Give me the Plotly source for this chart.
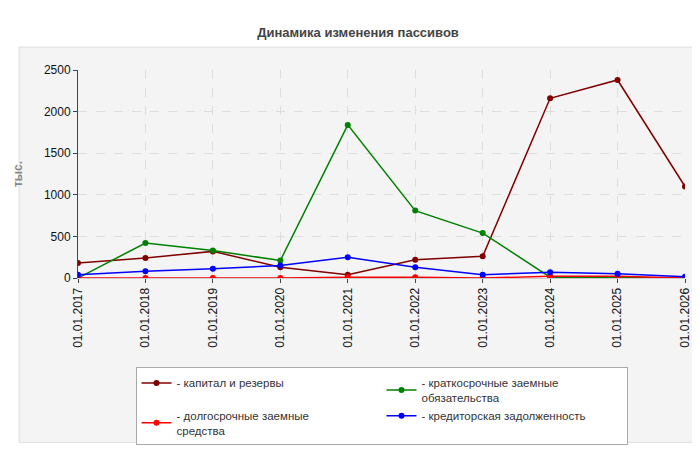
import plotly.graph_objects as go

dates = ["01.01.2017", "01.01.2018", "01.01.2019", "01.01.2020", "01.01.2021",
         "01.01.2022", "01.01.2023", "01.01.2024", "01.01.2025", "01.01.2026"]
capital = [180, 240, 320, 130, 40, 220, 260, 2160, 2380, 1100]
short_term = [0, 420, 330, 210, 1840, 810, 540, 10, 5, 0]
long_term = [0, 0, 0, 0, 10, 10, 0, 20, 20, 0]
creditors = [40, 80, 110, 150, 250, 130, 40, 70, 50, 15]

series = [
    ("- капитал и резервы", capital, "#800000"),
    ("- краткосрочные заемные<br>обязательства", short_term, "#008000"),
    ("- долгосрочные заемные<br>средства", long_term, "#ff0000"),
    ("- кредиторская задолженность", creditors, "#0000ff"),
]

fig = go.Figure()
for name, vals, color in series:
    fig.add_trace(go.Scatter(
        x=dates, y=vals, name=name, mode="lines+markers",
        line=dict(color=color, width=1.5),
        marker=dict(color=color, size=6),
    ))

fig.update_layout(
    width=700, height=450,
    margin=dict(l=70, r=23, t=62, b=175),
    paper_bgcolor="white",
    plot_bgcolor="#fdfdf8",
    font=dict(family="Liberation Sans, Arial", size=12, color="#222"),
    title=dict(text="<b>Динамика изменения пассивов</b>", x=0.5, y=0.955,
               font=dict(size=13, color="#444")),
    xaxis=dict(type="category", tickangle=-90, showgrid=True, automargin=False,
               gridcolor="#dddddd", griddash="dash", range=[0, 9],
               ticks="outside", ticklen=4, tickcolor="#444",
               showline=True, linecolor="#ccc", tickfont=dict(size=12, color="#111")),
    yaxis=dict(range=[0, 2500], dtick=500, showgrid=True, gridcolor="#dddddd",
               griddash="dash", showline=True, linecolor="#444", ticks="outside",
               ticklen=4, tickcolor="#444", zeroline=False, automargin=False,
               title=dict(text="<b>тыс.</b>", font=dict(size=12, color="#888"), standoff=18),
               tickfont=dict(size=12, color="#111")),
    legend=dict(orientation="h", x=0.5, xanchor="center", y=-0.43, yanchor="top",
                entrywidth=200, bgcolor="white", bordercolor="#aaa", borderwidth=1,
                font=dict(size=11.5, color="#333"), traceorder="normal",
                itemwidth=30, tracegroupgap=0),
    shapes=[dict(type="rect", xref="paper", yref="paper", x0=-0.097, x1=1.03,
                 y0=-0.79, y1=1.11, fillcolor="#f4f4f4", line=dict(color="#ddd", width=1),
                 layer="below")],
)

fig.write_html("out.html")
